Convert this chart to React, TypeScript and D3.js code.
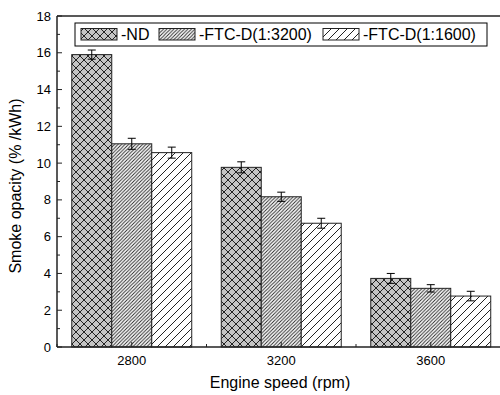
import React, { useEffect, useRef } from "react";
import * as d3 from "d3";

const speeds = [2800, 3200, 3600];
const seriesNames = ["-ND", "-FTC-D(1:3200)", "-FTC-D(1:1600)"];
const ndValues = [15.9, 9.77, 3.73];
const ftc3200Values = [11.05, 8.17, 3.19];
const ftc1600Values = [10.57, 6.73, 2.77];
const ndErrors = [0.25, 0.3, 0.27];
const ftc3200Errors = [0.3, 0.25, 0.2];
const ftc1600Errors = [0.3, 0.27, 0.26];
const yTicks = [0, 2, 4, 6, 8, 10, 12, 14, 16, 18];

const W = 500, H = 395;
const M = { left: 57, top: 16, bottom: 347, right: 505.5 };

export default function App() {
  const ref = useRef<SVGSVGElement>(null);
  useEffect(() => {
    document.body.style.margin = "0";
    const svg = d3.select(ref.current);
    svg.selectAll("*").remove();
    const font = "Arial, 'Liberation Sans', Helvetica, sans-serif";

    const x = d3.scaleLinear().domain([2600, 3800]).range([M.left, M.right]);
    const y = d3.scaleLinear().domain([0, 18]).range([M.bottom, M.top]);

    const defs = svg.append("defs");
    // cross-hatch pattern
    const p1 = defs.append("pattern").attr("id", "pND").attr("patternUnits", "userSpaceOnUse")
      .attr("width", 8).attr("height", 8);
    p1.append("rect").attr("width", 8).attr("height", 8).attr("fill", "#c4c4c4");
    p1.append("path").attr("d", "M0,0 L8,8 M-1,7 L1,9 M7,-1 L9,1 M0,8 L8,0 M-1,1 L1,-1 M7,9 L9,7")
      .attr("stroke", "#222").attr("stroke-width", 1);
    const p2 = defs.append("pattern").attr("id", "p3200").attr("patternUnits", "userSpaceOnUse")
      .attr("width", 3.5).attr("height", 3.5);
    p2.append("rect").attr("width", 3.5).attr("height", 3.5).attr("fill", "#fff");
    p2.append("path").attr("d", "M0,3.5 L3.5,0 M-1,1 L1,-1 M2.5,4.5 L4.5,2.5")
      .attr("stroke", "#222").attr("stroke-width", 0.9);
    const p3 = defs.append("pattern").attr("id", "p1600").attr("patternUnits", "userSpaceOnUse")
      .attr("width", 8).attr("height", 8);
    p3.append("rect").attr("width", 8).attr("height", 8).attr("fill", "#fff");
    p3.append("path").attr("d", "M0,8 L8,0 M-1,1 L1,-1 M7,9 L9,7")
      .attr("stroke", "#222").attr("stroke-width", 1);

    const fills = ["url(#pND)", "url(#p3200)", "url(#p1600)"];
    const values = [ndValues, ftc3200Values, ftc1600Values];
    const errors = [ndErrors, ftc3200Errors, ftc1600Errors];
    const barW = 107; // data units
    const offsets = [-barW, 0, barW];

    // bars
    values.forEach((vals, s) => {
      vals.forEach((v, i) => {
        const cx = speeds[i] + offsets[s];
        const x0 = x(cx - barW / 2), x1 = x(cx + barW / 2);
        svg.append("rect").attr("x", x0).attr("y", y(v)).attr("width", x1 - x0)
          .attr("height", y(0) - y(v)).attr("fill", fills[s])
          .attr("stroke", "#222").attr("stroke-width", 1);
      });
    });
    // error bars
    values.forEach((vals, s) => {
      vals.forEach((v, i) => {
        const cx = x(speeds[i] + offsets[s]);
        const e = errors[s][i];
        const g = svg.append("g").attr("stroke", "#000").attr("stroke-width", 1);
        g.append("line").attr("x1", cx).attr("x2", cx).attr("y1", y(v + e)).attr("y2", y(v - e));
        g.append("line").attr("x1", cx - 4).attr("x2", cx + 4).attr("y1", y(v + e)).attr("y2", y(v + e));
        g.append("line").attr("x1", cx - 4).attr("x2", cx + 4).attr("y1", y(v - e)).attr("y2", y(v - e));
      });
    });

    // frame
    svg.append("line").attr("x1", M.left).attr("x2", W).attr("y1", M.top).attr("y2", M.top)
      .attr("stroke", "#222").attr("stroke-width", 1.5);
    svg.append("line").attr("x1", M.left).attr("x2", W).attr("y1", M.bottom).attr("y2", M.bottom)
      .attr("stroke", "#222").attr("stroke-width", 1.5);
    svg.append("line").attr("x1", M.left).attr("x2", M.left).attr("y1", M.top).attr("y2", M.bottom)
      .attr("stroke", "#222").attr("stroke-width", 1.5);

    // y ticks
    d3.range(0, 19, 1).forEach((t) => {
      const major = t % 2 === 0;
      svg.append("line").attr("x1", M.left).attr("x2", M.left + (major ? 5 : 3))
        .attr("y1", y(t)).attr("y2", y(t)).attr("stroke", "#222").attr("stroke-width", 1);
    });
    yTicks.forEach((t) => {
      svg.append("text").attr("x", M.left - 6).attr("y", y(t)).attr("dy", "0.35em")
        .attr("text-anchor", "end").attr("font-family", font).attr("font-size", 13).text(String(t));
    });
    // x ticks
    [2600, 3000, 3400, 3800].forEach((t) => {
      svg.append("line").attr("x1", x(t)).attr("x2", x(t)).attr("y1", M.bottom).attr("y2", M.bottom - 3)
        .attr("stroke", "#222").attr("stroke-width", 1);
    });
    speeds.forEach((t) => {
      svg.append("line").attr("x1", x(t)).attr("x2", x(t)).attr("y1", M.bottom).attr("y2", M.bottom - 5)
        .attr("stroke", "#222").attr("stroke-width", 1);
      svg.append("text").attr("x", x(t)).attr("y", M.bottom + 18).attr("text-anchor", "middle")
        .attr("font-family", font).attr("font-size", 13).text(String(t));
    });

    // axis titles
    svg.append("text").attr("x", 280).attr("y", 388).attr("text-anchor", "middle")
      .attr("font-family", font).attr("font-size", 16).text("Engine speed (rpm)");
    svg.append("text").attr("transform", "translate(21,186) rotate(-90)").attr("text-anchor", "middle")
      .attr("font-family", font).attr("font-size", 16).text("Smoke opacity (% /kWh)");

    // legend
    svg.append("rect").attr("x", 75).attr("y", 23).attr("width", 412).attr("height", 23)
      .attr("fill", "#fff").attr("stroke", "#000").attr("stroke-width", 1);
    const swX = [81, 159, 323];
    seriesNames.forEach((n, s) => {
      svg.append("rect").attr("x", swX[s]).attr("y", 28.5).attr("width", 36).attr("height", 11.5)
        .attr("fill", fills[s]).attr("stroke", "#222").attr("stroke-width", 1);
      svg.append("text").attr("x", swX[s] + 40).attr("y", 40).attr("font-family", font)
        .attr("font-size", 16).text(n);
    });
  }, []);
  return <svg ref={ref} width={W} height={H} style={{ display: "block" }} />;
}
